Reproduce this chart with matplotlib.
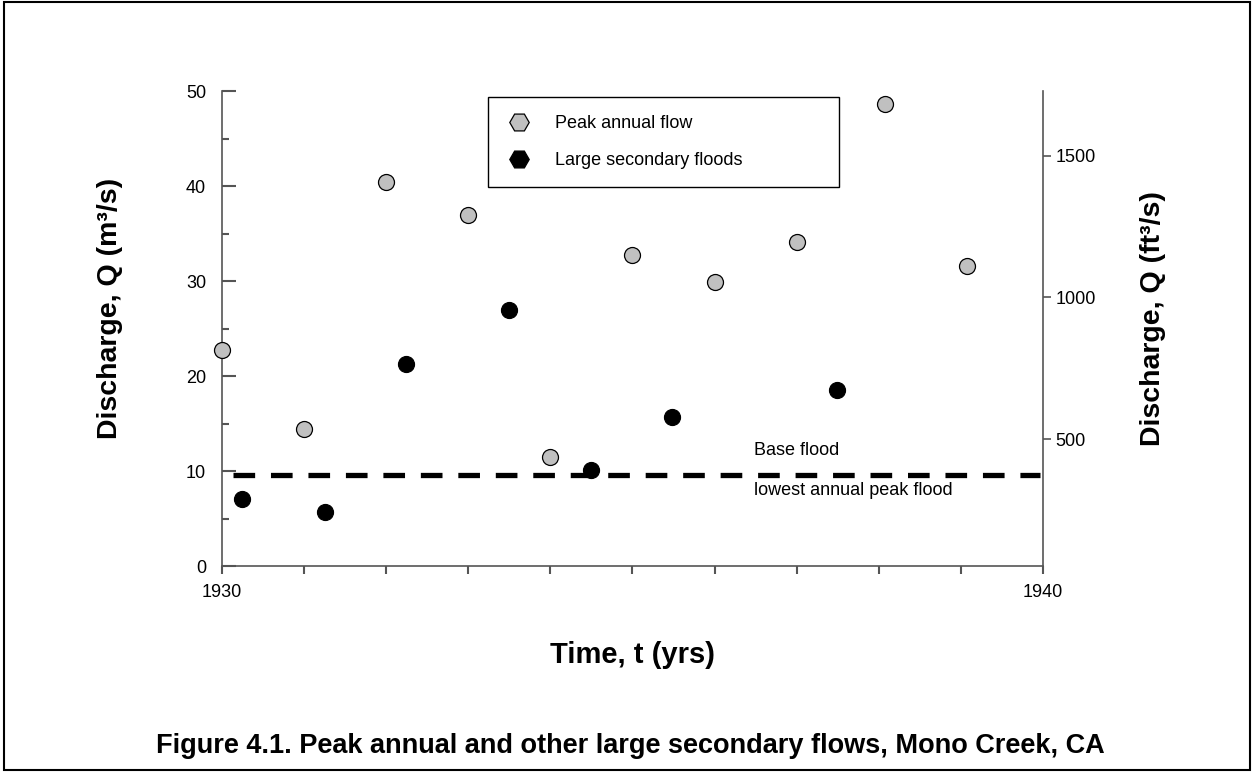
import matplotlib
matplotlib.use("Agg")
import matplotlib.pyplot as plt
from matplotlib.lines import Line2D
from matplotlib.patches import Rectangle

plt.rcParams['font.family'] = ['Liberation Sans', 'DejaVu Sans']

# peak annual flows (m3/s)
peak_years = [1930.0, 1931.0, 1932.0, 1933.0, 1934.0, 1935.0, 1936.0, 1937.0, 1938.08, 1939.07]
peak_q = [22.7, 14.4, 40.4, 36.9, 11.5, 32.7, 29.9, 34.1, 48.6, 31.6]

# large secondary floods (m3/s)
sec_years = [1930.24, 1931.25, 1932.24, 1933.5, 1934.5, 1935.48, 1937.49]
sec_q = [7.1, 5.7, 21.3, 27.0, 10.1, 15.7, 18.5]

base_flood = 9.55
base_span = [1930.13, 1939.97]

left_ticks = [0, 10, 20, 30, 40, 50]
left_minor = [5, 15, 25, 35, 45]
right_ticks = [500, 1000, 1500]
year_labels = [1930, 1940]
year_minor = list(range(1931, 1940))

fig = plt.figure(figsize=(12.54, 7.72), dpi=100)
ax = fig.add_axes([0.1770, 0.2668, 0.6547, 0.6153])
ax2 = ax.twinx()

ax.set_xlim(1930, 1940)
ax.set_ylim(0, 50)
ax2.set_ylim(53, 1728)

ax.plot(base_span, [base_flood, base_flood], color='black', lw=3.8,
        linestyle=(0, (4.1, 3.0)), solid_capstyle='butt', zorder=2)
ax.plot(peak_years, peak_q, 'o', ms=11.5, mfc='#c0c0c0', mec='black', mew=0.9,
        clip_on=False, zorder=3)
ax.plot(sec_years, sec_q, 'o', ms=11.5, mfc='black', mec='black', mew=0.9,
        clip_on=False, zorder=3)

ax.text(1936.48, 12.2, 'Base flood', fontsize=13, va='center', ha='left')
ax.text(1936.48, 8.0, 'lowest annual peak flood', fontsize=13, va='center', ha='left')

spine_c = '#555555'
for a in (ax, ax2):
    a.spines['top'].set_visible(False)
    for s in ('left', 'right', 'bottom'):
        a.spines[s].set_color(spine_c)
        a.spines[s].set_linewidth(1.2)
ax.spines['right'].set_visible(False)
ax2.spines['left'].set_visible(False)
ax2.spines['bottom'].set_visible(False)

ax.set_yticks(left_ticks)
ax.set_yticks(left_minor, minor=True)
ax.tick_params(axis='y', which='major', direction='in', length=10, width=1.5,
               color=spine_c, labelsize=13, pad=11.5)
ax.tick_params(axis='y', which='minor', direction='in', length=5, width=1.5,
               color=spine_c)

ax.set_xticks(year_labels)
ax.set_xticks(year_minor, minor=True)
ax.tick_params(axis='x', which='both', direction='out', length=6, width=1.5,
               color=spine_c, labelsize=13, pad=7)

ax2.set_yticks(right_ticks)
ax2.tick_params(axis='y', which='major', direction='out', length=6, width=1.2,
                color=spine_c, labelsize=13, pad=3)

ax.set_ylabel('Discharge, Q (m³/s)', fontsize=20.5, fontweight='bold')
ax.yaxis.set_label_coords(-0.1206, 0.543)
ax2.set_ylabel('Discharge, Q (ft³/s)', fontsize=20.5, fontweight='bold')
ax2.yaxis.set_label_coords(1.118, 0.522)
ax.set_xlabel('Time, t (yrs)', fontsize=21, fontweight='bold')
ax.xaxis.set_label_coords(0.5, -0.158)

handles = [
    Line2D([], [], marker='H', ls='none', ms=14, mfc='#c0c0c0', mec='black', mew=0.9),
    Line2D([], [], marker='H', ls='none', ms=14, mfc='black', mec='black', mew=0.9),
]
leg = ax2.legend(handles, ['Peak annual flow', 'Large secondary floods'],
                 loc='upper left', bbox_to_anchor=(0.324, 0.7916, 0.4275, 0.1958),
                 mode='expand', fontsize=13, frameon=True, fancybox=False,
                 framealpha=1, edgecolor='black', borderpad=1.0, borderaxespad=0,
                 labelspacing=1.1, handlelength=1.4, handletextpad=1.3)
leg.get_frame().set_linewidth(1.0)

fig.text(0.503, 0.034, 'Figure 4.1. Peak annual and other large secondary flows, Mono Creek, CA',
         fontsize=19.5, fontweight='bold', ha='center', va='center')

fig.patches.append(Rectangle((0.003, 0.003), 0.994, 0.994, transform=fig.transFigure,
                             fill=False, edgecolor='black', lw=1.5))

fig.savefig('out.png', dpi=100)
